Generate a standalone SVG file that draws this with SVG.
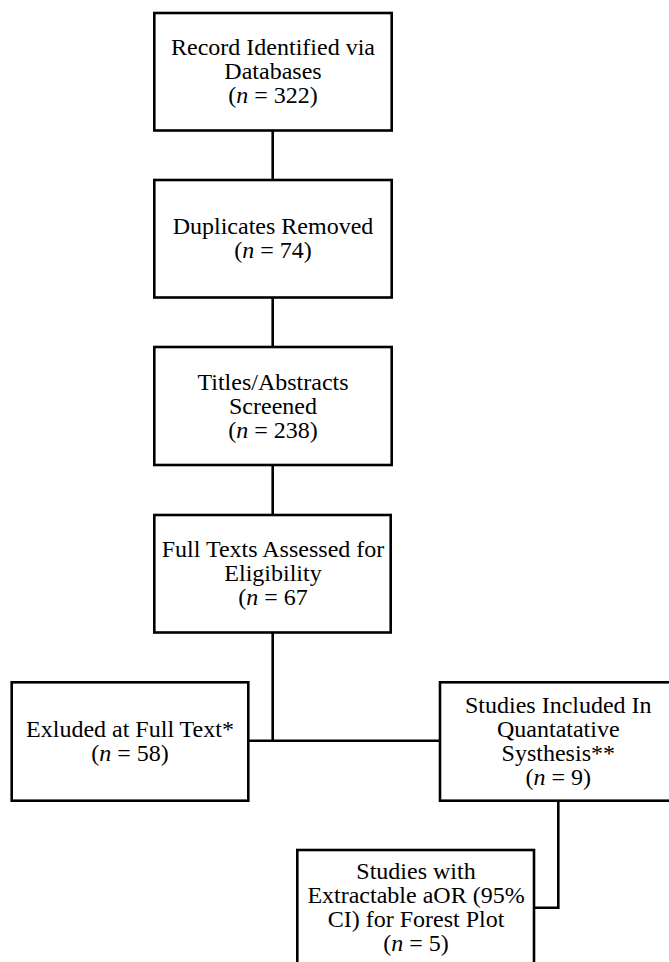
<svg xmlns="http://www.w3.org/2000/svg" width="669" height="962" viewBox="0 0 669 962">
<style>
.box{fill:#fff;stroke:#000;stroke-width:2.6}
.ln{fill:none;stroke:#000;stroke-width:2.6}
.t{font-family:'Liberation Serif',serif;font-size:24px;fill:#000;text-anchor:middle}
.i{font-style:italic}
</style>
<rect width="669" height="962" fill="#fff"/>
<g id="connectors">
<line class="ln" x1="272.7" y1="130" x2="272.7" y2="180"/>
<line class="ln" x1="272.7" y1="297" x2="272.7" y2="347"/>
<line class="ln" x1="272.7" y1="465" x2="272.7" y2="515"/>
<line class="ln" x1="272.7" y1="632" x2="272.7" y2="740.7"/>
<line class="ln" x1="248.3" y1="740.7" x2="440" y2="740.7"/>
<polyline class="ln" points="558.3,800.7 558.3,907.7 534,907.7"/>
</g>
<g id="n1" class="t">
<rect class="box" x="154.3" y="13" width="237.4" height="117.5"/>
<text x="273" y="55">Record Identified via</text>
<text x="273" y="79">Databases</text>
<text x="273" y="103">(<tspan class="i">n</tspan> = 322)</text>
</g>
<g id="n2" class="t">
<rect class="box" x="154.3" y="180" width="237.4" height="117.5"/>
<text x="273" y="234">Duplicates Removed</text>
<text x="273" y="258">(<tspan class="i">n</tspan> = 74)</text>
</g>
<g id="n3" class="t">
<rect class="box" x="154.3" y="347" width="237.4" height="118"/>
<text x="273" y="390">Titles/Abstracts</text>
<text x="273" y="414">Screened</text>
<text x="273" y="438">(<tspan class="i">n</tspan> = 238)</text>
</g>
<g id="n4" class="t">
<rect class="box" x="154.3" y="515" width="236.4" height="117.5"/>
<text x="273" y="557">Full Texts Assessed for</text>
<text x="273" y="581">Eligibility</text>
<text x="273" y="605">(<tspan class="i">n</tspan> = 67</text>
</g>
<g id="n5" class="t">
<rect class="box" x="11.7" y="682.3" width="236.6" height="118.4"/>
<text x="130" y="737">Exluded at Full Text*</text>
<text x="130" y="761">(<tspan class="i">n</tspan> = 58)</text>
</g>
<g id="n6" class="t">
<rect class="box" x="440" y="682.3" width="237" height="118.4"/>
<text x="558.3" y="712.6">Studies Included In</text>
<text x="558.3" y="736.6">Quantatative</text>
<text x="558.3" y="760.6">Systhesis**</text>
<text x="558.3" y="784.6">(<tspan class="i">n</tspan> = 9)</text>
</g>
<g id="n7" class="t">
<rect class="box" x="297.3" y="850" width="236.7" height="118"/>
<text x="416" y="879">Studies with</text>
<text x="416" y="903">Extractable aOR (95%</text>
<text x="416" y="927">CI) for Forest Plot</text>
<text x="416" y="951">(<tspan class="i">n</tspan> = 5)</text>
</g>
</svg>
